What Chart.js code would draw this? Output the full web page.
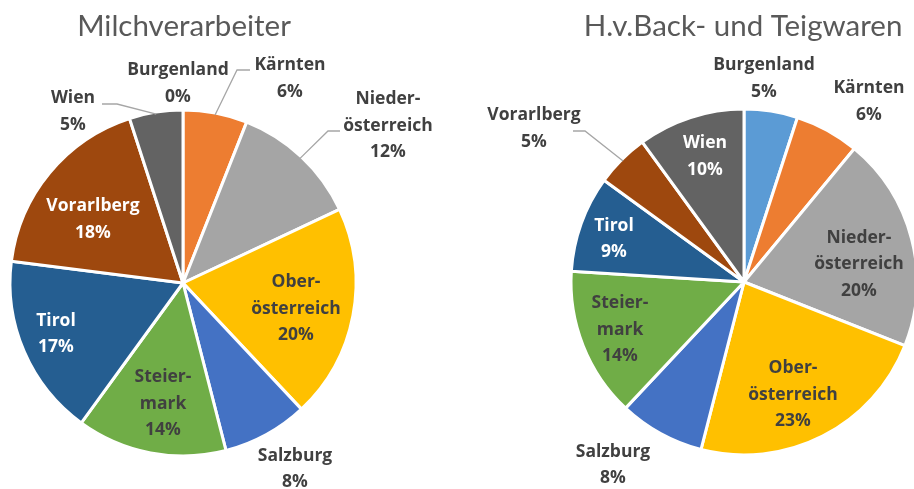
<!DOCTYPE html>
<html>
<head>
<meta charset="utf-8">
<script src="https://cdn.jsdelivr.net/npm/chart.js@4/dist/chart.umd.min.js"></script>
<style>
  html, body { margin: 0; padding: 0; background: #ffffff; }
  #wrap { position: relative; width: 914px; height: 489px; overflow: hidden; }
  .box { position: absolute; top: 0; width: 457px; height: 489px; }
  #b1 { left: 0; }
  #b2 { left: 457px; }
</style>
</head>
<body>
<div id="wrap">
  <div class="box" id="b1"><canvas id="c1" width="457" height="489"></canvas></div>
  <div class="box" id="b2"><canvas id="c2" width="457" height="489"></canvas></div>
</div>
<script>
// ---- data ----
const REGIONS = ['Burgenland', 'Kärnten', 'Niederösterreich', 'Oberösterreich', 'Salzburg', 'Steiermark', 'Tirol', 'Vorarlberg', 'Wien'];
const REGION_LABEL_LINES = [['Burgenland'], ['Kärnten'], ['Nieder-', 'österreich'], ['Ober-', 'österreich'], ['Salzburg'], ['Steier-', 'mark'], ['Tirol'], ['Vorarlberg'], ['Wien']];
const TITLE_MILCH = 'Milchverarbeiter';
const TITLE_BACK = 'H.v.Back- und Teigwaren';
const MILCH_VALUES = [0, 6, 12, 20, 8, 14, 17, 18, 5];
const BACK_VALUES = [5, 6, 20, 23, 8, 14, 9, 5, 10];
const REGION_COLORS = ['#5B9BD5', '#ED7D31', '#A5A5A5', '#FFC000', '#4472C4', '#70AD47', '#255E91', '#9E480E', '#636363'];

// ---- label layout (offsets of label block centre from pie centre; leader line elbow/end) ----
const DARK = '#404040', WHITE = '#FFFFFF';
const MILCH_LABEL_LAYOUT = [
  { dx: -5,   dy: -199.5, color: DARK },
  { dx: 107,  dy: -204.5, color: DARK, elbow: [54, -213], end: [67, -213] },
  { dx: 205,  dy: -157,   color: DARK, elbow: [145, -152], end: [157, -152] },
  { dx: 113,  dy: 26,     color: DARK },
  { dx: 112,  dy: 186,    color: DARK },
  { dx: -20,  dy: 121,    color: DARK },
  { dx: -127, dy: 51,     color: WHITE },
  { dx: -90,  dy: -63.5,  color: WHITE },
  { dx: -110, dy: -171.5, color: DARK, elbow: [-66, -179], end: [-81, -179] }
];
const BACK_LABEL_LAYOUT = [
  { dx: 20,   dy: -203.5, color: DARK },
  { dx: 125,  dy: -180.5, color: DARK },
  { dx: 115,  dy: -17.5,  color: DARK },
  { dx: 49,   dy: 112.7,  color: DARK },
  { dx: -131, dy: 183,    color: DARK },
  { dx: -124, dy: 47.7,   color: DARK },
  { dx: -130, dy: -43,    color: WHITE },
  { dx: -210, dy: -153.5, color: DARK, elbow: [-159, -151], end: [-171, -151] },
  { dx: -39,  dy: -125.5, color: WHITE }
];

const LABEL_FONT = 'bold 17.5px "Open Sans", Lato, sans-serif';
const LINE_H = 26.5;

const pieLabels = {
  id: 'pieLabels',
  afterDatasetsDraw(chart, args, opts) {
    const ctx = chart.ctx;
    const meta = chart.getDatasetMeta(0);
    const values = chart.data.datasets[0].data;
    const total = values.reduce((a, b) => a + b, 0);
    const layout = opts.layout;
    ctx.save();
    // title
    ctx.font = opts.titleFont;
    ctx.fillStyle = '#595959';
    ctx.textAlign = 'center';
    ctx.textBaseline = 'middle';
    ctx.fillText(opts.title, opts.titleX, opts.titleY);

    meta.data.forEach((arc, i) => {
      const p = arc.getProps(['x', 'y', 'startAngle', 'endAngle', 'outerRadius'], true);
      const L = layout[i];
      if (L.elbow) {
        const mid = (p.startAngle + p.endAngle) / 2;
        const ax = p.x + Math.cos(mid) * (p.outerRadius - 2);
        const ay = p.y + Math.sin(mid) * (p.outerRadius - 2);
        ctx.beginPath();
        ctx.strokeStyle = '#A6A6A6';
        ctx.lineWidth = 1.3;
        ctx.moveTo(ax, ay);
        ctx.lineTo(p.x + L.elbow[0], p.y + L.elbow[1]);
        ctx.lineTo(p.x + L.end[0], p.y + L.end[1]);
        ctx.stroke();
      }
      const lines = REGION_LABEL_LINES[i].concat([Math.round(values[i] / total * 100) + '%']);
      ctx.font = LABEL_FONT;
      ctx.fillStyle = L.color;
      const cx = p.x + L.dx, cy = p.y + L.dy;
      const top = cy - (lines.length - 1) * LINE_H / 2;
      lines.forEach((t, k) => ctx.fillText(t, cx, top + k * LINE_H));
    });
    ctx.restore();
  }
};

function makePie(id, values, padding, title, titleX, layout) {
  return new Chart(document.getElementById(id), {
    type: 'pie',
    data: {
      labels: REGIONS,
      datasets: [{
        data: values,
        backgroundColor: REGION_COLORS,
        borderColor: '#FFFFFF',
        borderWidth: 3,
        radius: 173,
        clip: false
      }]
    },
    options: {
      responsive: false,
      animation: false,
      layout: { padding: padding },
      plugins: {
        legend: { display: false },
        tooltip: { enabled: false },
        title: { display: false },
        pieLabels: {
          layout: layout,
          title: title,
          titleX: titleX,
          titleY: 26,
          titleFont: '29.5px Lato, "Open Sans", sans-serif'
        }
      }
    },
    plugins: [pieLabels]
  });
}

makePie('c1', MILCH_VALUES, { left: 0, right: 91, top: 77, bottom: 0 }, TITLE_MILCH, 184, MILCH_LABEL_LAYOUT);
makePie('c2', BACK_VALUES, { left: 117, right: 0, top: 75, bottom: 0 }, TITLE_BACK, 286, BACK_LABEL_LAYOUT);
</script>
</body>
</html>
